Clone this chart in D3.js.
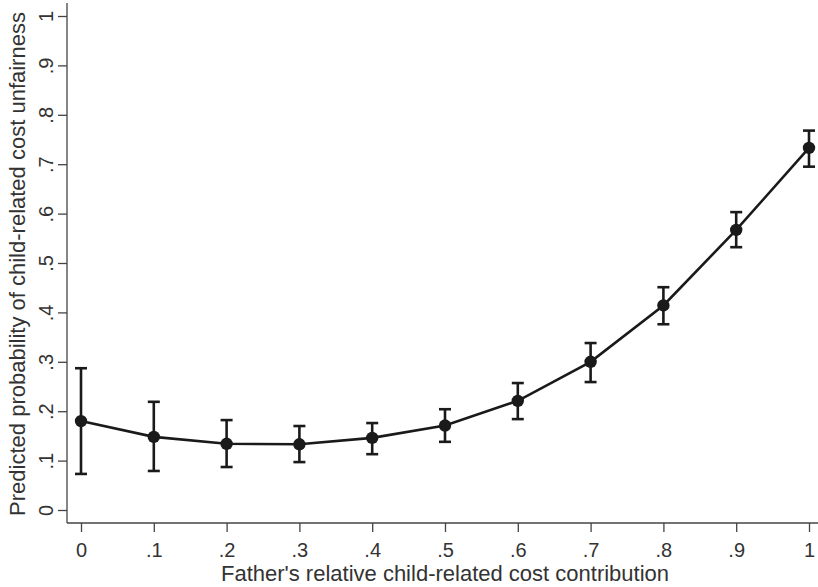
<!DOCTYPE html>
<html>
<head>
<meta charset="utf-8">
<script src="https://cdn.jsdelivr.net/npm/d3@7"></script>
<style>
  body { margin: 0; background: #fff; }
  svg { display: block; font-family: "Liberation Sans", Arial, sans-serif; }
</style>
</head>
<body>
<svg id="chart"></svg>
<script>
// father's relative contribution (x) and predicted probability with 95% CI
const contribution = [0, 0.1, 0.2, 0.3, 0.4, 0.5, 0.6, 0.7, 0.8, 0.9, 1];
const predicted = [0.180, 0.148, 0.134, 0.133, 0.146, 0.171, 0.221, 0.300, 0.414, 0.567, 0.733];
const ciLow  = [0.073, 0.079, 0.087, 0.097, 0.113, 0.138, 0.184, 0.259, 0.376, 0.532, 0.695];
const ciHigh = [0.287, 0.219, 0.182, 0.170, 0.176, 0.204, 0.257, 0.338, 0.451, 0.603, 0.768];
const xTicks = [0, 0.1, 0.2, 0.3, 0.4, 0.5, 0.6, 0.7, 0.8, 0.9, 1];
const yTicks = [0, 0.1, 0.2, 0.3, 0.4, 0.5, 0.6, 0.7, 0.8, 0.9, 1];

const width = 818, height = 587;
const axisX = 67, axisY = 523;
const ink = "#1a1a1a", textCol = "#333";

const svg = d3.select("#chart").attr("width", width).attr("height", height);

const x = d3.scaleLinear().domain([0, 1]).range([81, 809]);
const y = d3.scaleLinear().domain([0, 1]).range([510, 16]);

const fmt = d => d === 0 ? "0" : d === 1 ? "1" : d3.format(".1f")(d).replace(/^0/, "");

// axis lines
svg.append("line").attr("x1", axisX).attr("x2", axisX).attr("y1", 3).attr("y2", axisY)
  .attr("stroke", "#444").attr("stroke-width", 1.3);
svg.append("line").attr("x1", axisX).attr("x2", width).attr("y1", axisY).attr("y2", axisY)
  .attr("stroke", "#444").attr("stroke-width", 1.3);

// y axis
const gy = svg.append("g").attr("transform", `translate(${axisX},0)`)
  .call(d3.axisLeft(y).tickValues(yTicks).tickFormat(fmt).tickSize(9).tickSizeOuter(0));
gy.select(".domain").remove();
gy.selectAll(".tick line").attr("stroke", "#444").attr("stroke-width", 1.3);
gy.selectAll(".tick text")
  .attr("transform", "rotate(-90)")
  .attr("x", 0).attr("y", -14).attr("dy", 0)
  .attr("text-anchor", "middle")
  .attr("fill", textCol).style("font-size", "20px");

// x axis
const gx = svg.append("g").attr("transform", `translate(0,${axisY})`)
  .call(d3.axisBottom(x).tickValues(xTicks).tickFormat(fmt).tickSize(9).tickSizeOuter(0));
gx.select(".domain").remove();
gx.selectAll(".tick line").attr("stroke", "#444").attr("stroke-width", 1.3);
gx.selectAll(".tick text")
  .attr("y", 34).attr("dy", 0)
  .attr("fill", textCol).style("font-size", "20px");

// titles
svg.append("text").attr("x", 445).attr("y", 581).attr("text-anchor", "middle")
  .attr("fill", textCol).style("font-size", "22px")
  .text("Father's relative child-related cost contribution");
svg.append("text").attr("transform", "translate(25,264) rotate(-90)").attr("text-anchor", "middle")
  .attr("fill", textCol).style("font-size", "22px")
  .text("Predicted probability of child-related cost unfairness");

// error bars
const rows = contribution.map((c, i) => ({c, p: predicted[i], lo: ciLow[i], hi: ciHigh[i]}));
const eb = svg.append("g").attr("stroke", ink).attr("stroke-width", 2.6);
eb.selectAll(".bar").data(rows).enter().append("line")
  .attr("x1", d => x(d.c)).attr("x2", d => x(d.c))
  .attr("y1", d => y(d.lo)).attr("y2", d => y(d.hi));
eb.selectAll(".capHi").data(rows).enter().append("line")
  .attr("x1", d => x(d.c) - 6).attr("x2", d => x(d.c) + 6)
  .attr("y1", d => y(d.hi)).attr("y2", d => y(d.hi));
eb.selectAll(".capLo").data(rows).enter().append("line")
  .attr("x1", d => x(d.c) - 6).attr("x2", d => x(d.c) + 6)
  .attr("y1", d => y(d.lo)).attr("y2", d => y(d.lo));

// line + markers
svg.append("path").datum(rows)
  .attr("fill", "none").attr("stroke", ink).attr("stroke-width", 2.6)
  .attr("d", d3.line().x(d => x(d.c)).y(d => y(d.p)));
svg.selectAll(".pt").data(rows).enter().append("circle")
  .attr("cx", d => x(d.c)).attr("cy", d => y(d.p)).attr("r", 6.2)
  .attr("fill", ink);
</script>
</body>
</html>
